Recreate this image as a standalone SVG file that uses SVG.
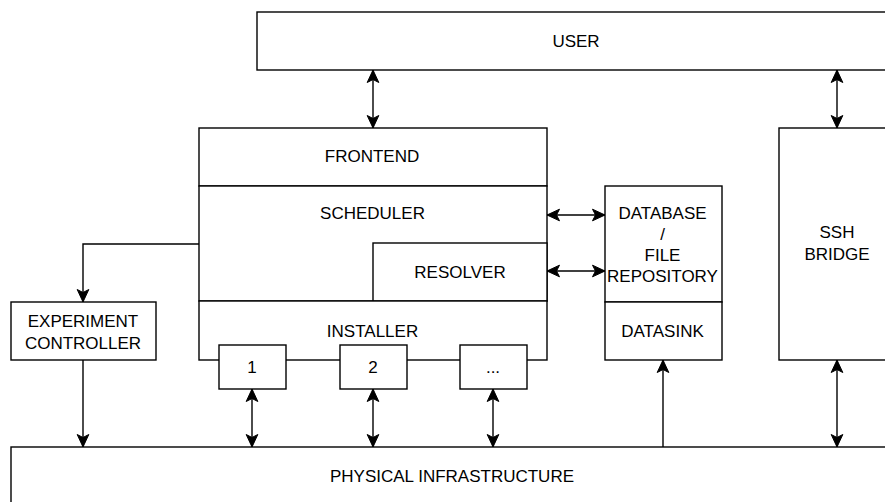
<svg xmlns="http://www.w3.org/2000/svg" width="885" height="502" viewBox="0 0 885 502">
  <style>
    .box { fill: #ffffff; stroke: #000000; stroke-width: 1.4; }
    .lbl { font-family: "Liberation Sans", Arial, sans-serif; font-size: 17px; fill: #000000; text-anchor: middle; }
    .edge { fill: none; stroke: #000000; stroke-width: 1.4; }
    .two { marker-start: url(#head); marker-end: url(#head); }
    .one { marker-end: url(#head); }
  </style>
  <defs>
    <marker id="head" viewBox="-13 -7 14 14" refX="0" refY="0" markerWidth="14" markerHeight="14" markerUnits="userSpaceOnUse" orient="auto-start-reverse">
      <path d="M0,0 L-12.5,-5.8 L-9.5,0 L-12.5,5.8 Z" fill="#000000" stroke="#000000" stroke-width="1" stroke-linejoin="miter"/>
    </marker>
  </defs>
  <rect width="885" height="502" fill="#ffffff"/>

  <g id="user">
    <rect class="box" x="257" y="12" width="640" height="58"/>
    <text class="lbl" x="576" y="46.5">USER</text>
  </g>

  <g id="frontend">
    <rect class="box" x="199" y="128" width="348" height="58"/>
    <text class="lbl" x="372" y="162">FRONTEND</text>
  </g>

  <g id="scheduler">
    <rect class="box" x="199" y="186" width="348" height="115"/>
    <text class="lbl" x="372.5" y="219">SCHEDULER</text>
  </g>

  <g id="resolver">
    <rect class="box" x="373" y="243" width="174" height="58"/>
    <text class="lbl" x="460" y="278">RESOLVER</text>
  </g>

  <g id="installer">
    <rect class="box" x="199" y="301" width="348" height="59"/>
    <text class="lbl" x="372.5" y="336.5">INSTALLER</text>
  </g>

  <g id="worker-1">
    <rect class="box" x="219" y="345" width="67" height="44"/>
    <text class="lbl" x="252" y="373">1</text>
  </g>
  <g id="worker-2">
    <rect class="box" x="340" y="345" width="67" height="44"/>
    <text class="lbl" x="373" y="373">2</text>
  </g>
  <g id="worker-n">
    <rect class="box" x="460" y="345" width="67" height="44"/>
    <text class="lbl" x="493" y="373">...</text>
  </g>

  <g id="database">
    <rect class="box" x="605" y="186" width="117" height="116"/>
    <text class="lbl" x="662.5" y="219">DATABASE</text>
    <text class="lbl" x="662.5" y="240">/</text>
    <text class="lbl" x="662.5" y="261">FILE</text>
    <text class="lbl" x="662.5" y="282">REPOSITORY</text>
  </g>

  <g id="datasink">
    <rect class="box" x="605" y="302" width="117" height="58"/>
    <text class="lbl" x="662.5" y="337">DATASINK</text>
  </g>

  <g id="ssh-bridge">
    <rect class="box" x="779" y="128" width="116" height="232"/>
    <text class="lbl" x="837" y="238">SSH</text>
    <text class="lbl" x="837" y="260">BRIDGE</text>
  </g>

  <g id="experiment-controller">
    <rect class="box" x="11" y="302" width="145" height="58"/>
    <text class="lbl" x="83" y="327">EXPERIMENT</text>
    <text class="lbl" x="83" y="348.5">CONTROLLER</text>
  </g>

  <g id="physical-infrastructure">
    <rect class="box" x="11" y="447" width="885" height="57"/>
    <text class="lbl" x="452" y="482">PHYSICAL INFRASTRUCTURE</text>
  </g>

  <g id="connectors">
    <path class="edge two" d="M373,70 V128"/>
    <path class="edge two" d="M837,70 V128"/>
    <path class="edge two" d="M547,215 H605"/>
    <path class="edge two" d="M547,271 H605"/>
    <path class="edge one" d="M199,244 H83 V302"/>
    <path class="edge one" d="M83,360 V447"/>
    <path class="edge two" d="M252,389 V447"/>
    <path class="edge two" d="M373,389 V447"/>
    <path class="edge two" d="M493,389 V447"/>
    <path class="edge one" d="M663,447 V360"/>
    <path class="edge two" d="M837,360 V447"/>
  </g>
</svg>
